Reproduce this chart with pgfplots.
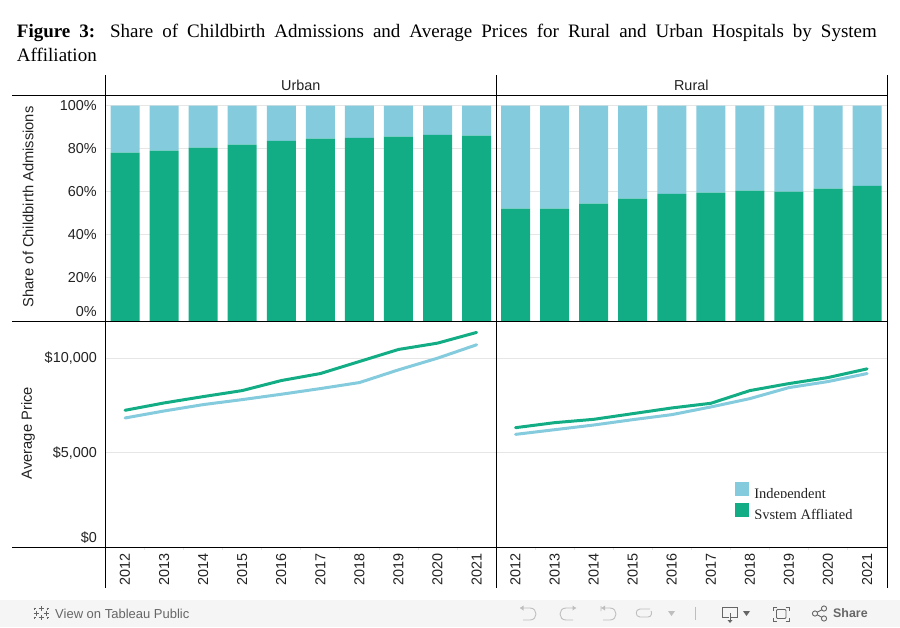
\documentclass[border=0pt]{standalone}
\usepackage{fontspec}
\usepackage{pgfplots}
\usepackage{pgfplotstable}
\pgfplotsset{compat=1.18}
\setmainfont{Liberation Sans}
\newfontfamily\timesfont{Liberation Serif}
\definecolor{sysgreen}{RGB}{18,173,132}
\definecolor{indblue}{RGB}{131,203,221}
\definecolor{gridgrey}{RGB}{230,230,230}
\definecolor{labeltext}{RGB}{34,34,34}
\definecolor{barbg}{RGB}{245,245,245}
\definecolor{toolgrey}{RGB}{102,102,102}
\definecolor{icongrey}{RGB}{190,190,190}

\pgfplotstableread{
idx sys ind
0 78.2 21.8
1 79.1 20.9
2 80.5 19.5
3 81.9 18.1
4 83.7 16.3
5 84.7 15.3
6 85.1 14.9
7 85.6 14.4
8 86.5 13.5
9 86.1 13.9
}\urbanshare
\pgfplotstableread{
idx sys ind
0 52.2 47.8
1 52.2 47.8
2 54.5 45.5
3 56.8 43.2
4 59.1 40.9
5 59.6 40.4
6 60.5 39.5
7 60.1 39.9
8 61.5 38.5
9 62.8 37.2
}\ruralshare
\pgfplotstableread{
idx sys ind
0 7252 6844
1 7642 7216
2 7979 7553
3 8298 7819
4 8830 8103
5 9202 8404
6 9840 8723
7 10479 9397
8 10815 10017
9 11383 10727
}\urbanprice
\pgfplotstableread{
idx sys ind
0 6330 5975
1 6596 6223
2 6773 6471
3 7074 6755
4 7376 7021
5 7624 7429
6 8298 7872
7 8670 8457
8 8989 8776
9 9450 9202
}\ruralprice

\newcommand{\chartfont}{\fontsize{14.4}{16}\selectfont\color{labeltext}}

\pgfplotsset{
	panel/.style = {
		scale only axis,
		width = 390.6pt,
		anchor = south west,
		xmin = -0.5,
		xmax = 9.5,
		scaled y ticks = false,
		axis line style = {draw = none},
		ymajorgrids,
		grid style = {gridgrey, line width = 0.9pt},
		major tick length = 0pt,
		tick label style = {font = \chartfont},
		y tick label style = {inner sep = 0pt, xshift = -8.5pt},
		label style = {font = \fontsize{14.7}{16}\selectfont\color{labeltext}},
		title style = {font = \chartfont, yshift = -6pt},
	},
	sharepanel/.style = {
		panel,
		height = 225pt,
		ymin = 0,
		ymax = 104.5,
		ybar stacked,
		bar width = 29pt,
		xtick = \empty,
		ytick = {0, 20, 40, 60, 80, 100},
	},
	pricepanel/.style = {
		panel,
		height = 226pt,
		ymin = 0,
		ymax = 11989,
		ytick = {0, 5000, 10000},
		xtick = {0, ..., 9},
		xticklabels = {2012, 2013, 2014, 2015, 2016, 2017, 2018, 2019, 2020, 2021},
		x tick label style = {rotate = 90, anchor = east, inner sep = 0pt, xshift = -6pt},
		minor xtick = {0.5, 1.5, ..., 8.5},
		minor tick length = 3pt,
		minor tick style = {gridgrey, line width = 0.8pt},
		tick align = outside,
		xtick pos = bottom,
	},
	priceline/.style = {#1, line width = 3pt, no markers, line join = round, line cap = round},
}

\begin{document}
\begin{tikzpicture}
\path[use as bounding box] (0pt, 0pt) rectangle (900pt, -627pt);

\node[anchor = north west, inner sep = 0pt, align = left, font = \fontsize{19}{24}\timesfont] at (16.7pt, -23.5pt)
	{\makebox[860pt][s]{\textbf{Figure 3:} Share of Childbirth Admissions and Average Prices for Rural and Urban Hospitals by System}\\Affiliation};

\begin{axis}[
	sharepanel,
	at = {(105.5pt, -321pt)},
	title = {Urban},
	title style = {at = {(axis description cs:0.5, 1.049)}, anchor = center},
	yticklabels = {\raisebox{9pt}[\height][\depth]{0\%}, 20\%, 40\%, 60\%, 80\%, 100\%},
	ylabel = {Share of Childbirth Admissions},
	y label style = {at = {(axis description cs:-0.198, 0.507)}, anchor = center},
]
\addplot[fill = sysgreen, draw = none] table[x = idx, y = sys] {\urbanshare};
\addplot[fill = indblue, draw = none] table[x = idx, y = ind] {\urbanshare};
\end{axis}

\begin{axis}[
	sharepanel,
	at = {(496pt, -321pt)},
	title = {Rural},
	title style = {at = {(axis description cs:0.5, 1.049)}, anchor = center},
	yticklabels = {},
]
\addplot[fill = sysgreen, draw = none] table[x = idx, y = sys] {\ruralshare};
\addplot[fill = indblue, draw = none] table[x = idx, y = ind] {\ruralshare};
\end{axis}

\begin{axis}[
	pricepanel,
	at = {(105.5pt, -547pt)},
	yticklabels = {\raisebox{9pt}[\height][\depth]{\$0}, {\$5,000}, {\$10,000}},
	ylabel = {Average Price},
	y label style = {at = {(axis description cs:-0.198, 0.504)}, anchor = center},
]
\addplot[priceline = {color = indblue}] table[x = idx, y = ind] {\urbanprice};
\addplot[priceline = {color = sysgreen}] table[x = idx, y = sys] {\urbanprice};
\end{axis}

\begin{axis}[
	pricepanel,
	at = {(496pt, -547pt)},
	yticklabels = {},
	legend cell align = left,
	legend image code/.code = {
		\fill[#1, draw = none] (0pt, -1.8pt) rectangle (14pt, 11.8pt);
	},
	legend style = {
		at = {(axis description cs:0.612, 0.287)},
		anchor = north west,
		draw = none,
		fill = none,
		inner sep = 0pt,
		row sep = 1pt,
		font = \fontsize{14.5}{14.5}\timesfont\color{labeltext},
		/tikz/every odd column/.append style = {column sep = 3pt},
	},
]
\addplot[priceline = {color = indblue}] table[x = idx, y = ind] {\ruralprice};
\addlegendentry{Independent}
\addplot[priceline = {color = sysgreen}] table[x = idx, y = sys] {\ruralprice};
\addlegendentry{System Affliated}
\end{axis}

% facet rules
\begin{scope}[x = 1pt, y = -1pt, line width = 1.2pt, black]
	\draw (12, 95.4) -- (887.9, 95.4);
	\draw (12, 321.2) -- (887.9, 321.2);
	\draw (12, 547.3) -- (887.9, 547.3);
	\draw (105.5, 75) -- (105.5, 587.6);
	\draw (496.3, 75) -- (496.3, 587.6);
	\draw (887.3, 75) -- (887.3, 587.6);
\end{scope}

% legend text is cut off just under the baseline in the reference
\begin{scope}[x = 1pt, y = -1pt]
	\fill[white] (753, 498.4) rectangle (860, 502.2);
	\fill[white] (753, 519) rectangle (860, 523);
\end{scope}

% tableau toolbar
\begin{scope}[x = 1pt, y = -1pt]
	\fill[barbg] (0, 600) rectangle (900, 627);
	\node[anchor = west, inner sep = 0pt, text = toolgrey, font = \fontsize{13}{14}\selectfont] at (55, 613.5) {View on Tableau Public};
	\node[anchor = west, inner sep = 0pt, text = toolgrey, font = \fontsize{12.4}{14}\selectfont\bfseries] at (833, 613.5) {Share};
	\begin{scope}[toolgrey, line width = 0.9pt]
		\draw (41, 606) -- (41, 611) (38.5, 608.5) -- (43.5, 608.5);
		\draw (41, 615) -- (41, 620) (38.5, 617.5) -- (43.5, 617.5);
		\draw (36, 610.5) -- (36, 615.5) (33.5, 613) -- (38.5, 613);
		\draw (46, 610.5) -- (46, 615.5) (43.5, 613) -- (48.5, 613);
		\draw (34.5, 607.5) -- (34.5, 609.5) (33.5, 608.5) -- (35.5, 608.5);
		\draw (47.5, 607.5) -- (47.5, 609.5) (46.5, 608.5) -- (48.5, 608.5);
		\draw (34.5, 616.5) -- (34.5, 618.5) (33.5, 617.5) -- (35.5, 617.5);
		\draw (47.5, 616.5) -- (47.5, 618.5) (46.5, 617.5) -- (48.5, 617.5);
	\end{scope}
	\begin{scope}[icongrey, line width = 0.9pt]
		\draw (520, 608) -- (530, 608) .. controls (538, 608) and (538, 620) .. (530, 620) -- (523, 620);
		\fill (520, 608) -- (523.5, 605.5) -- (523.5, 610.5) -- cycle;
		\draw (576, 608) -- (566, 608) .. controls (558, 608) and (558, 620) .. (566, 620) -- (573, 620);
		\fill (576, 608) -- (572.5, 605.5) -- (572.5, 610.5) -- cycle;
		\draw (601, 606) -- (601, 611) (601, 608) -- (610, 608) .. controls (618, 608) and (618, 620) .. (610, 620) -- (603, 620);
		\fill (601.5, 608) -- (605, 605.5) -- (605, 610.5) -- cycle;
		\draw (650, 609) -- (640, 609) .. controls (635, 609) and (635, 617) .. (640, 617) -- (648, 617) .. controls (652, 617) and (652, 612) .. (651, 611);
		\fill (668, 611) -- (675, 611) -- (671.5, 616) -- cycle;
		\draw (695.5, 607) -- (695.5, 620);
	\end{scope}
	\begin{scope}[toolgrey, line width = 0.9pt]
		\draw (729, 617) -- (722.5, 617) -- (722.5, 607) -- (737.5, 607) -- (737.5, 617) -- (731, 617);
		\draw (730, 613) -- (730, 621);
		\fill (727.5, 620) -- (732.5, 620) -- (730, 623) -- cycle;
		\fill (743, 611) -- (750, 611) -- (746.5, 616) -- cycle;
		\draw (777, 607) -- (773.5, 607) -- (773.5, 610.5) (785.5, 607) -- (789, 607) -- (789, 610.5);
		\draw (777, 621) -- (773.5, 621) -- (773.5, 617.5) (785.5, 621) -- (789, 621) -- (789, 617.5);
		\draw[rounded corners = 1pt] (776.5, 609.5) rectangle (786, 618.5);
		\draw (815, 613.5) circle[radius = 2.6] (824, 608.5) circle[radius = 2.6] (824, 618.5) circle[radius = 2.6];
		\draw (817.3, 612.2) -- (821.7, 609.8) (817.3, 614.8) -- (821.7, 617.2);
	\end{scope}
\end{scope}
\end{tikzpicture}
\end{document}
